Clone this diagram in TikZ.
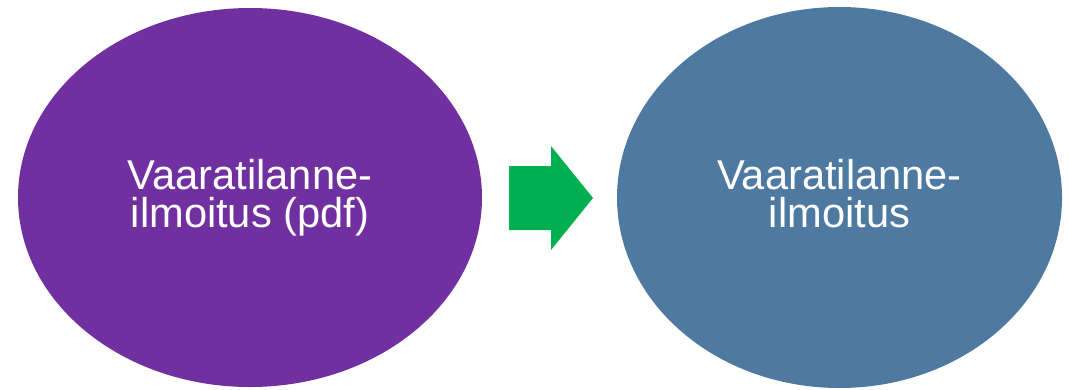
\documentclass[tikz,border=0pt]{standalone}
\usepackage{fontspec}
\setmainfont{Liberation Sans}
\usetikzlibrary{shapes.geometric}
\definecolor{lila}{HTML}{7030A0}
\definecolor{blaugrau}{HTML}{4E7AA2}
\definecolor{pfeilgruen}{HTML}{00B050}
\tikzset{
    oval/.style={ellipse, draw=none, text=white, align=center, inner sep=0pt,
        text depth=2.5pt, font=\fontsize{11.85}{10.9}\selectfont}
}
\begin{document}
\begin{tikzpicture}
        \useasboundingbox (0, 0) rectangle (10.69, 3.89);
        % Ellipsen
        \node[oval, fill=lila, minimum width=4.64cm, minimum height=3.79cm]
            (pdf) at (2.50, 1.915) {Vaaratilanne-\\ilmoitus (pdf)};
        \node[oval, fill=blaugrau, minimum width=4.45cm, minimum height=3.81cm]
            (ilmoitus) at (8.395, 1.915) {Vaaratilanne-\\ilmoitus};
        % Pfeil
        \fill[pfeilgruen]
            (5.09   ,2.23) --
            (5.51   ,2.23) --
            (5.51   ,2.43) --
            (5.93   ,1.91) --
            (5.51   ,1.39) --
            (5.51   ,1.59) --
            (5.09   ,1.59) -- cycle;
\end{tikzpicture}
\end{document}
